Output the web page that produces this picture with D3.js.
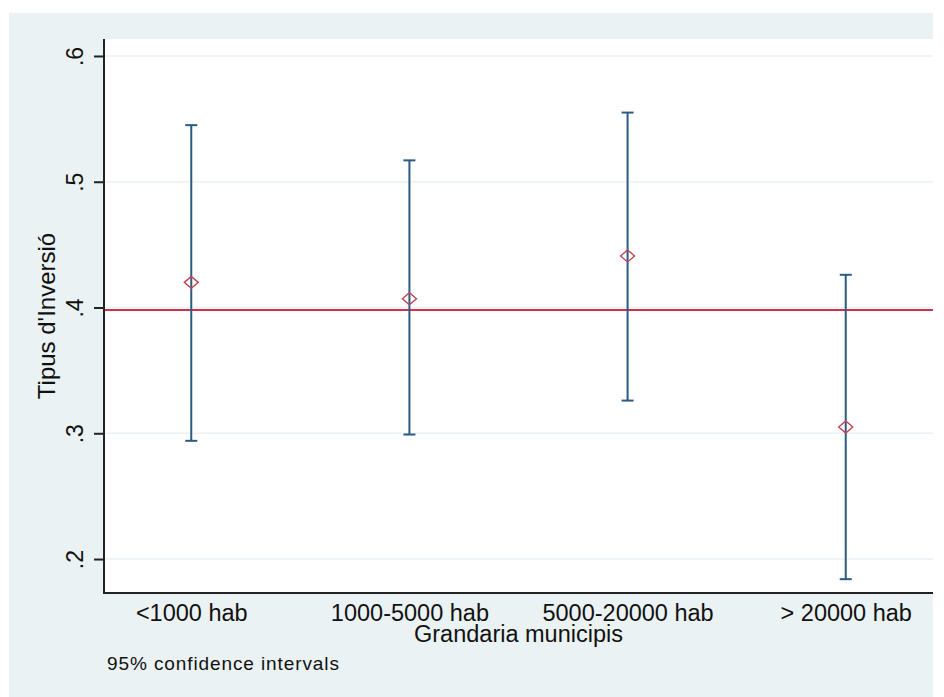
<!DOCTYPE html>
<html>
<head>
<meta charset="utf-8">
<script src="https://cdn.jsdelivr.net/npm/d3@7"></script>
<style>
  html, body { margin: 0; padding: 0; background: #ffffff; }
  svg { display: block; font-family: "Liberation Sans", Arial, sans-serif; }
</style>
</head>
<body>
<svg id="chart" width="944" height="697"></svg>
<script>
// Mean and 95% confidence interval of investment type by municipality size
const categories = ["<1000 hab", "1000-5000 hab", "5000-20000 hab", "> 20000 hab"];
const means = [0.420, 0.407, 0.441, 0.305];
const lower = [0.294, 0.299, 0.326, 0.184];
const upper = [0.545, 0.517, 0.555, 0.426];
const referenceValue = 0.398;
const yTicks = [0.2, 0.3, 0.4, 0.5, 0.6];

const svg = d3.select("#chart");

// graph region and plot region
const outer = { x: 9, y: 13, w: 924, h: 684 };
const plot = { left: 104, right: 933, top: 39, bottom: 593 };

svg.append("rect")
  .attr("x", outer.x).attr("y", outer.y)
  .attr("width", outer.w).attr("height", outer.h)
  .attr("fill", "#eaf2f3");

svg.append("rect")
  .attr("x", plot.left).attr("y", plot.top)
  .attr("width", plot.right - plot.left).attr("height", plot.bottom - plot.top)
  .attr("fill", "#ffffff");

const x = d3.scalePoint()
  .domain(categories)
  .range([plot.left, plot.right])
  .padding(0.4);

const y = d3.scaleLinear()
  .domain([0.173, 0.6135])
  .range([plot.bottom, plot.top]);

// horizontal grid lines
svg.append("g")
  .selectAll("line")
  .data(yTicks)
  .join("line")
  .attr("x1", plot.left).attr("x2", plot.right)
  .attr("y1", d => y(d)).attr("y2", d => y(d))
  .attr("stroke", "#eaf2f3")
  .attr("stroke-width", 1.5);

// reference line
svg.append("line")
  .attr("x1", plot.left).attr("x2", plot.right)
  .attr("y1", y(referenceValue)).attr("y2", y(referenceValue))
  .attr("stroke", "#d4304c")
  .attr("stroke-width", 2);

// confidence intervals
const bars = svg.append("g").attr("stroke", "#2b5a85").attr("stroke-width", 2).attr("fill", "none");
const capHalf = 6;
categories.forEach((c, i) => {
  const cx = x(c);
  bars.append("line")
    .attr("x1", cx).attr("x2", cx)
    .attr("y1", y(upper[i])).attr("y2", y(lower[i]));
  bars.append("line")
    .attr("x1", cx - capHalf).attr("x2", cx + capHalf)
    .attr("y1", y(upper[i])).attr("y2", y(upper[i]));
  bars.append("line")
    .attr("x1", cx - capHalf).attr("x2", cx + capHalf)
    .attr("y1", y(lower[i])).attr("y2", y(lower[i]));
});

// hollow diamond markers at the means
const dw = 7, dh = 6;
svg.append("g")
  .selectAll("path")
  .data(categories)
  .join("path")
  .attr("d", (c, i) => {
    const cx = x(c), cy = y(means[i]);
    return `M${cx - dw},${cy}L${cx},${cy - dh}L${cx + dw},${cy}L${cx},${cy + dh}Z`;
  })
  .attr("fill", "none")
  .attr("stroke", "#c04452")
  .attr("stroke-width", 1.4);

// y axis
const yAxis = svg.append("g")
  .attr("transform", `translate(${plot.left},0)`)
  .call(d3.axisLeft(y).tickValues(yTicks).tickSize(10).tickPadding(12)
    .tickFormat(d => d3.format(".1f")(d).replace(/^0/, "")));
yAxis.select(".domain").remove();
yAxis.selectAll(".tick line").attr("stroke", "#222").attr("stroke-width", 2);
yAxis.selectAll(".tick text")
  .attr("font-size", 23)
  .attr("fill", "#111")
  .attr("text-anchor", "middle")
  .attr("dy", 0)
  .attr("x", null)
  .attr("transform", "translate(-21,0) rotate(-90)");

svg.append("line")
  .attr("x1", plot.left).attr("x2", plot.left)
  .attr("y1", plot.top).attr("y2", plot.bottom + 1)
  .attr("stroke", "#222").attr("stroke-width", 2);

// x axis
const xAxis = svg.append("g")
  .attr("transform", `translate(0,${plot.bottom})`)
  .call(d3.axisBottom(x).tickSize(0).tickPadding(0));
xAxis.select(".domain").remove();
xAxis.selectAll(".tick text")
  .attr("font-size", 23.5)
  .attr("fill", "#111")
  .attr("dy", 0)
  .attr("y", 28);

svg.append("line")
  .attr("x1", plot.left - 1).attr("x2", plot.right)
  .attr("y1", plot.bottom).attr("y2", plot.bottom)
  .attr("stroke", "#222").attr("stroke-width", 2);

// axis titles
svg.append("text")
  .attr("x", (plot.left + plot.right) / 2)
  .attr("y", 642)
  .attr("text-anchor", "middle")
  .attr("font-size", 23.5)
  .attr("fill", "#111")
  .text("Grandaria municipis");

svg.append("text")
  .attr("transform", `translate(55,${(plot.top + plot.bottom) / 2}) rotate(-90)`)
  .attr("text-anchor", "middle")
  .attr("font-size", 24)
  .attr("fill", "#111")
  .text("Tipus d'Inversió");

// note
svg.append("text")
  .attr("x", 107)
  .attr("y", 670)
  .attr("font-size", 19)
  .attr("letter-spacing", 0.9)
  .attr("fill", "#111")
  .text("95% confidence intervals");
</script>
</body>
</html>
